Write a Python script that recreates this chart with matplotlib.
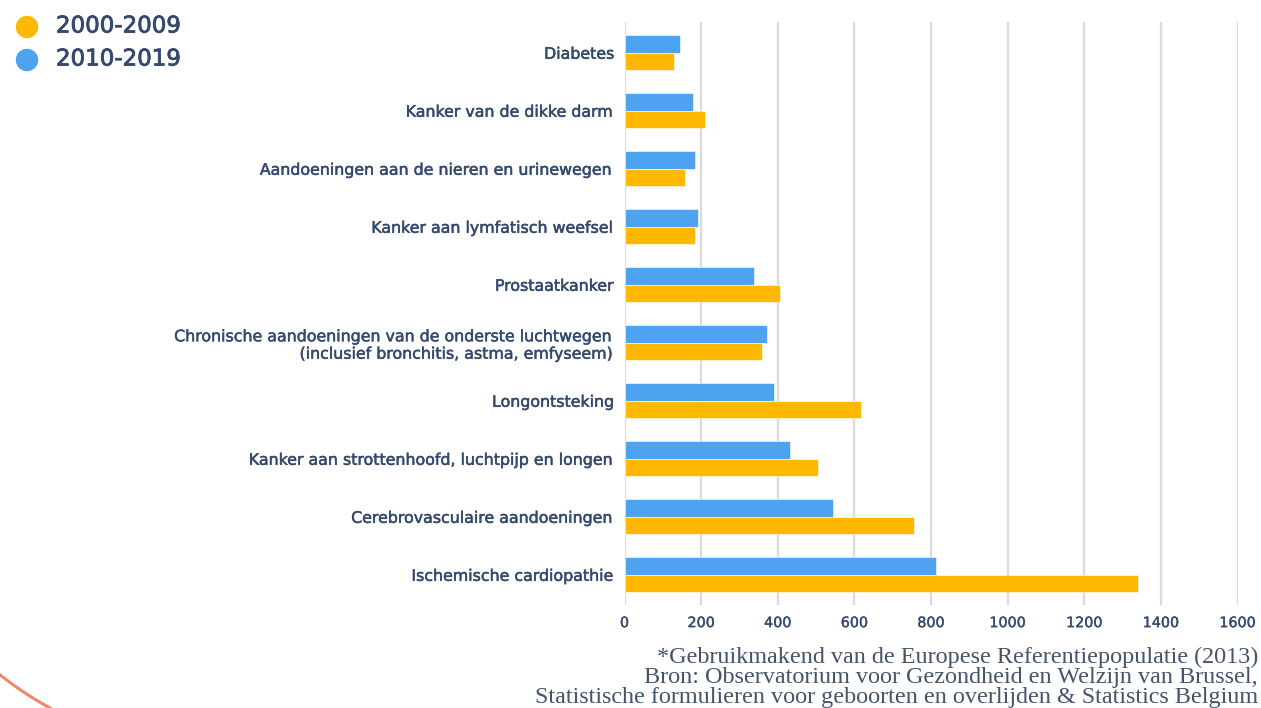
import matplotlib
matplotlib.use("Agg")
import matplotlib.pyplot as plt
from matplotlib.patches import Circle
import matplotlib.patheffects as pe
import numpy as np

categories = [
    "Diabetes",
    "Kanker van de dikke darm",
    "Aandoeningen aan de nieren en urinewegen",
    "Kanker aan lymfatisch weefsel",
    "Prostaatkanker",
    "Chronische aandoeningen van de onderste luchtwegen\n(inclusief bronchitis, astma, emfyseem)",
    "Longontsteking",
    "Kanker aan strottenhoofd, luchtpijp en longen",
    "Cerebrovasculaire aandoeningen",
    "Ischemische cardiopathie",
]
series_2000_2009 = [128, 209, 159, 183, 405, 358, 616, 506, 755, 1340]
series_2010_2019 = [146, 180, 183, 191, 337, 373, 389, 433, 543, 812]
series_names = ["2000-2009", "2010-2019"]
x_ticks = [0, 200, 400, 600, 800, 1000, 1200, 1400, 1600]
footnote = ["*Gebruikmakend van de Europese Referentiepopulatie (2013)",
            "Bron: Observatorium voor Gezondheid en Welzijn van Brussel,",
            "Statistische formulieren voor geboorten en overlijden & Statistics Belgium"]

ORANGE = "#FFB800"
BLUE = "#4DA3EF"
TEXT = "#34496E"
SANS = "DejaVu Sans"
W, H = 1261, 708
thick = [pe.withStroke(linewidth=0.35, foreground=TEXT)]

fig = plt.figure(figsize=(W / 100, H / 100), dpi=100)
fig.patch.set_facecolor("white")

# overlay axes in pixel coordinates for decorations
ov = fig.add_axes([0, 0, 1, 1], zorder=-1)
ov.set_xlim(0, W)
ov.set_ylim(H, 0)
ov.axis("off")
ov.add_patch(Circle((27, 27), 10.5, color=ORANGE))
ov.add_patch(Circle((27, 60), 10.5, color=BLUE))
t = np.radians(np.linspace(112, 132, 60))
ov.plot(212 + 340 * np.cos(t), 409 + 340 * np.sin(t), color="#F0876A", linewidth=2.2,
        solid_capstyle="butt")

ax = fig.add_axes([624.5 / W, 1 - 605 / H, (1237.5 - 624.5) / W, (605 - 22) / H])
ax.patch.set_alpha(0)

y = np.arange(len(categories))
h = 0.30
ax.barh(y - h / 2, series_2010_2019, height=h, color=BLUE, edgecolor="white", linewidth=0.4, zorder=3)
ax.barh(y + h / 2, series_2000_2009, height=h, color=ORANGE, edgecolor="white", linewidth=0.4, zorder=3)

ax.set_xlim(0, 1600)
ax.set_ylim(len(categories) - 0.48, -0.53)
ax.set_xticks(x_ticks)
ax.set_xticklabels([str(v) for v in x_ticks], fontsize=10.3, color=TEXT, family=SANS)
for lbl in ax.get_xticklabels():
    lbl.set_path_effects([pe.withStroke(linewidth=0.25, foreground=TEXT)])
ax.set_yticks(y)
ax.set_yticklabels(categories, fontsize=11.4, color=TEXT, family=SANS, linespacing=1.2)
for lbl in ax.get_yticklabels():
    lbl.set_path_effects(thick)
ax.tick_params(axis="y", length=0, pad=7)
ax.tick_params(axis="x", length=0, pad=8)
ax.grid(axis="x", color="#DADADA", linewidth=1.6, zorder=0)
for s in ax.spines.values():
    s.set_visible(False)

# legend text
for i, yy in enumerate([26, 59]):
    tx = fig.text(56 / W, 1 - yy / H, series_names[i], fontsize=16.5, color=TEXT, family=SANS,
                  va="center", ha="left")
    tx.set_path_effects([pe.withStroke(linewidth=0.6, foreground=TEXT)])

# footnote
for i, line in enumerate(footnote):
    fig.text(1258 / W, 1 - (657 + 20 * i) / H, line, fontsize=17.4, color="#44546A",
             family="Liberation Serif", ha="right", va="center")

fig.savefig("out.png", dpi=100, facecolor="white")
